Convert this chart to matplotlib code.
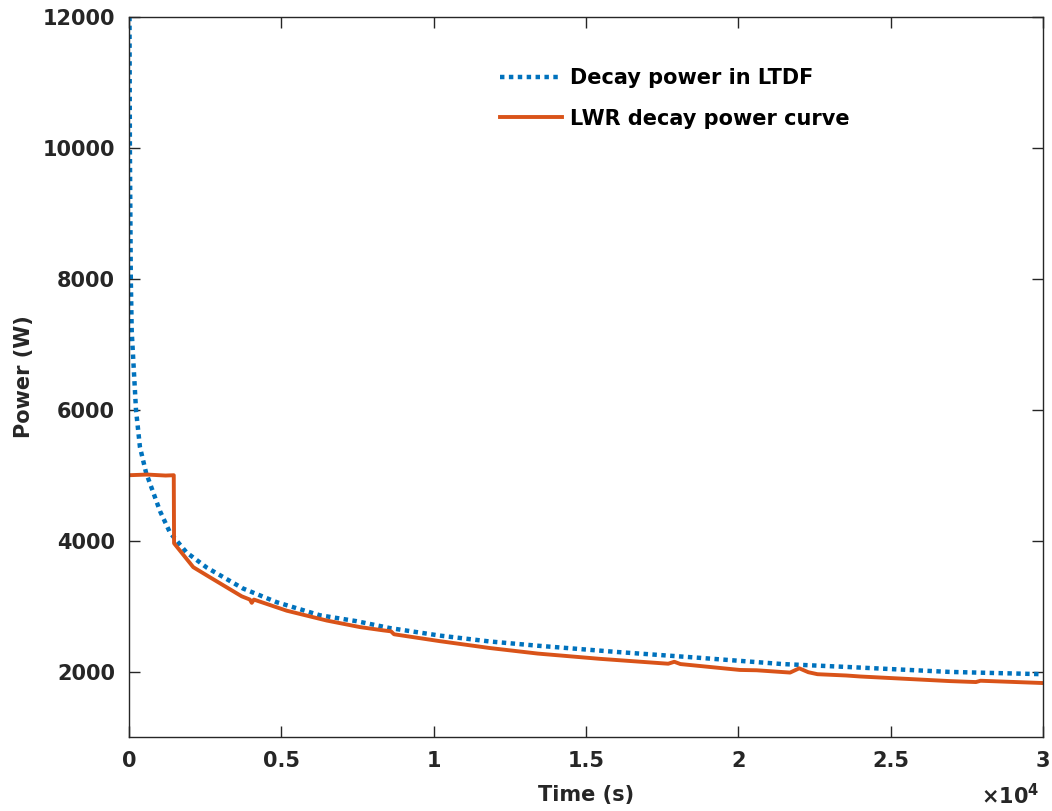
import numpy as np
import matplotlib
matplotlib.use("Agg")
import matplotlib.pyplot as plt
from matplotlib.ticker import FuncFormatter

# decay power in LTDF
t_ltdf = [5, 30, 60, 90, 230, 360, 560, 1020, 1350, 1890, 2550, 3740, 4850,
          6270, 7470, 8560, 10200, 11840, 13420, 16000, 18730, 21450, 23600,
          26930, 30000]
p_ltdf = [14000, 10000, 8000, 7200, 6000, 5430, 5040, 4450, 4120, 3820, 3590,
          3270, 3060, 2860, 2770, 2665, 2550, 2460, 2395, 2300, 2210, 2115,
          2070, 1995, 1960]

# LWR decay power curve
t_lwr = [0, 600, 1200, 1470, 1480, 1670, 2110, 2660, 3700, 3970, 4030, 4100,
         5180, 6490, 7580, 8340, 8600, 8700, 10200, 11840, 13420, 15450,
         17700, 17900, 18100, 20050, 20600, 21700, 22000, 22300, 22600, 23550,
         24000, 26930, 27800, 27950, 30000]
p_lwr = [5000, 5010, 4995, 5000, 3960, 3850, 3595, 3440, 3150, 3100, 3050,
         3100, 2930, 2780, 2680, 2630, 2615, 2570, 2465, 2360, 2275, 2195,
         2120, 2150, 2115, 2025, 2020, 1985, 2050, 1990, 1960, 1940, 1925,
         1855, 1840, 1860, 1825]

xticks = [0, 5000, 10000, 15000, 20000, 25000, 30000]
yticks = [2000, 4000, 6000, 8000, 10000, 12000]

plt.rcParams['font.family'] = ['DejaVu Sans']
plt.rcParams['font.weight'] = 'bold'

fig = plt.figure(figsize=(10.52, 8.11), dpi=100)
ax = fig.add_axes([0.1226, 0.0912, 0.8688, 0.8878])

ax.plot(t_ltdf, p_ltdf, linestyle=(0, (1, 1)), color='#0072BD', linewidth=3.2,
        label='Decay power in LTDF')
ax.plot(t_lwr, p_lwr, '-', color='#D95319', linewidth=2.8,
        label='LWR decay power curve')

ax.set_xlim(0, 30000)
ax.set_ylim(1000, 12000)
ax.set_xticks(xticks)
ax.set_yticks(yticks)
ax.xaxis.set_major_formatter(FuncFormatter(lambda v, p: f"{v / 1e4:g}"))
ax.yaxis.set_major_formatter(FuncFormatter(lambda v, p: f"{int(v)}"))

ax.tick_params(direction='in', length=8, width=1, colors='#262626',
               labelsize=15, top=True, right=True, pad=10)
for lab in ax.get_xticklabels() + ax.get_yticklabels():
    lab.set_fontweight('bold')
for s in ax.spines.values():
    s.set_color('#262626')
    s.set_linewidth(1.0)

ax.set_xlabel('Time (s)', fontsize=15, fontweight='bold', color='#262626', labelpad=10)
ax.set_ylabel('Power (W)', fontsize=15, fontweight='bold', color='#262626', labelpad=6)

fig.text(0.988, 0.003, r'$\times$10$^{\mathbf{4}}$', fontsize=15, color='#262626',
         ha='right', va='bottom')

leg = ax.legend(loc='upper left', bbox_to_anchor=(0.385, 0.955), frameon=False,
                fontsize=15, handlelength=3.0, handletextpad=0.4, labelspacing=0.98)
for txt in leg.get_texts():
    txt.set_fontweight('bold')

fig.savefig('out.png', dpi=100)
